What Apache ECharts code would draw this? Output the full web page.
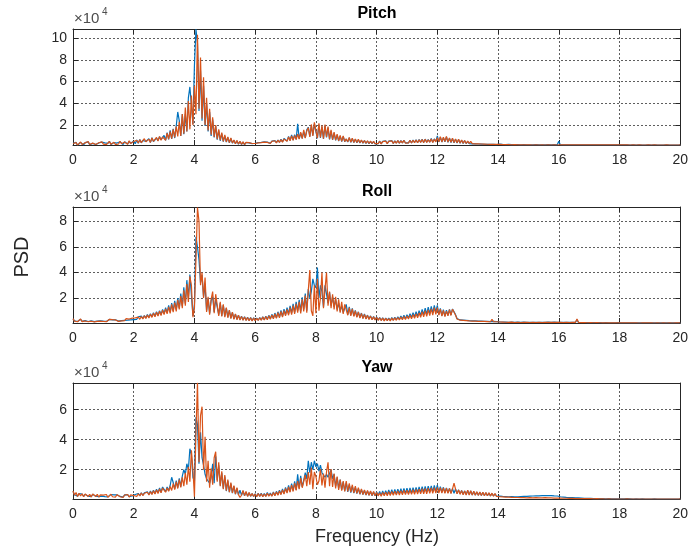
<!DOCTYPE html>
<html><head><meta charset="utf-8">
<script src="https://cdn.jsdelivr.net/npm/echarts@6/dist/echarts.min.js"></script>
<style>html,body{margin:0;padding:0;background:#fff}#c{width:691px;height:552px}</style>
</head><body><div id="c"></div>
<script>
// ---- data (PSD values in units of 100, i.e. 100 = 1x10^4), sampled every FREQ_STEP Hz from 0 to 20 Hz
const FREQ_STEP = 0.05;
const VALUE_UNIT = 100;
const xTicks = [0,2,4,6,8,10,12,14,16,18,20];
const titles = ['Pitch','Roll','Yaw'];
const pitchTicks = [2,4,6,8,10];   // x10^4
const rollTicks  = [2,4,6,8];
const yawTicks   = [2,4,6];
const pitchRange = [0.16, 10.83];   // x10^4
const rollRange  = [0.04, 9.14];
const yawRange   = [0.05, 7.78];

const pitchBlue = [
32,17,40,14,30,40,22,16,38,21,45,19,18,31,42,20,20,35,26,42,
26,36,21,31,50,20,33,39,22,34,27,46,29,20,45,28,26,50,31,24,
50,28,62,33,66,36,58,70,48,50,74,38,84,48,66,80,56,92,64,86,
105,58,130,68,150,72,165,80,190,320,240,100,300,115,300,140,450,550,380,210,
750,1080,950,330,700,240,560,190,400,140,320,100,250,85,190,65,150,55,120,48,
100,42,85,36,76,33,60,27,55,24,48,21,43,19,39,21,36,19,29,24,
32,21,38,23,40,24,44,26,42,47,32,52,36,57,38,62,42,68,45,75,
82,52,95,58,108,62,112,68,210,72,125,78,140,82,155,180,95,195,105,210,
140,78,205,82,185,72,195,86,175,68,145,62,128,58,110,52,100,48,95,46,
70,43,82,40,75,38,70,36,65,34,60,33,56,31,53,29,50,29,48,27,
44,29,52,27,49,31,55,29,51,33,56,31,55,34,58,33,56,36,60,35,
52,36,60,35,62,39,64,37,66,41,68,39,70,41,66,43,75,42,72,47,
100,44,88,43,84,46,90,41,78,39,75,37,70,35,66,33,60,31,56,29,
50,29,47,27,45,26,43,25,41,24,39,23,37,22,35,21,34,21,32,20,
29,24,28,21,28,20,27,21,26,19,25,20,27,19,24,18,23,19,25,18,
22,18,24,17,22,19,23,17,22,18,21,17,23,19,24,17,25,19,26,18,
50,19,23,17,21,18,21,17,20,17,20,17,20,17,20,17,19,17,19,17,
19,17,19,17,19,18,19,17,19,17,19,17,18,17,19,17,18,17,19,17,
18,17,18,17,18,17,18,16,18,17,18,16,18,17,18,16,17,16,18,17,
17,16,18,17,17,16,18,16,17,16,18,17,17,16,17,16,18,16,17,16,17];

const pitchOrange = [
30,18,38,15,27,44,20,17,36,22,48,20,17,33,40,21,19,37,24,45,
24,38,19,33,48,22,31,41,20,36,25,50,27,21,43,30,24,55,29,26,
48,30,60,35,64,38,56,74,45,52,70,40,80,50,62,85,52,95,60,90,
100,60,125,70,140,75,160,85,185,95,230,100,300,120,360,140,420,160,470,200,
560,300,1030,350,820,260,640,200,450,150,350,110,270,90,200,70,160,60,130,50,
110,45,90,38,80,35,62,28,58,25,50,22,45,20,40,22,38,20,30,25,
30,20,36,22,38,23,42,25,40,45,30,50,34,55,36,60,40,65,42,70,
75,50,90,55,100,60,105,65,115,70,135,75,155,80,145,175,90,205,100,225,
150,80,215,85,195,75,205,90,185,70,155,65,135,60,115,55,105,50,100,48,
72,45,85,42,78,40,72,38,68,36,62,34,58,32,55,30,52,30,50,28,
42,28,50,26,47,30,52,28,49,32,54,30,52,33,56,32,54,35,58,34,
50,35,58,34,60,38,62,36,64,40,66,38,68,40,64,42,72,40,70,45,
82,45,92,44,88,48,96,42,82,40,78,38,72,36,68,34,62,32,58,30,
52,30,49,28,46,27,44,26,42,25,40,24,38,23,36,22,35,22,33,21,
30,22,28,20,27,19,26,20,25,18,24,19,26,18,23,17,22,18,24,17,
21,17,23,16,20,18,22,16,21,17,20,16,22,18,21,16,20,17,23,16,
24,18,22,17,21,18,22,17,20,17,21,17,20,17,21,17,19,17,20,17,
19,17,20,17,19,18,19,17,20,17,19,17,18,17,19,17,18,17,19,17,
18,17,19,17,18,17,18,16,18,17,18,16,18,17,18,16,17,16,18,17,
17,16,18,17,17,16,18,16,17,16,18,17,17,16,17,16,18,16,17,16,17];

const rollBlue = [
36,20,31,16,29,33,17,28,22,31,16,26,20,29,15,26,19,29,21,30,
18,28,16,28,32,20,29,17,29,34,19,32,22,34,24,39,26,37,29,44,
31,46,33,52,37,58,40,63,44,70,49,76,53,84,58,92,64,100,70,110,
78,125,84,142,90,160,100,178,108,200,120,235,135,285,155,340,200,385,400,60,
150,680,600,500,320,380,210,300,100,200,80,180,210,90,190,180,70,160,60,145,
55,120,50,102,42,88,36,74,33,66,30,58,28,54,25,50,24,47,22,45,
24,42,26,47,28,52,30,57,33,64,37,72,41,82,45,92,50,102,56,112,
70,125,75,138,82,155,88,170,98,185,95,205,110,235,100,270,200,250,350,300,
280,440,200,300,250,130,300,230,160,245,140,210,130,190,110,160,95,140,85,120,
150,70,130,65,118,60,102,52,92,46,82,41,75,38,66,35,60,32,54,30,
50,27,47,25,45,23,43,25,42,24,46,27,49,29,53,33,58,35,64,38,
68,44,76,48,84,52,92,56,100,61,110,67,120,72,128,78,135,84,142,90,
143,70,118,62,108,58,104,65,110,67,114,105,70,38,44,28,42,26,40,24,
37,22,35,21,33,20,32,19,31,18,30,17,29,16,28,15,30,16,29,15,
19,13,18,12,17,11,16,10,15,12,16,10,15,11,14,9,15,11,14,10,
13,9,14,10,13,9,15,10,14,9,13,10,14,11,15,10,16,11,15,10,
14,10,13,9,15,10,14,9,13,10,15,10,30,9,13,8,12,8,11,7,
11,8,12,7,11,8,10,7,11,6,10,7,9,6,10,6,9,6,10,7,
9,5,8,6,9,5,8,5,7,5,8,5,7,5,8,5,7,5,8,5,
7,5,8,5,7,5,7,5,8,5,7,5,8,5,7,5,7,5,8,5,7];

const rollOrange = [
38,18,32,14,27,35,15,30,20,33,14,28,18,31,13,27,17,30,19,31,
16,29,14,26,33,18,30,15,28,36,17,31,20,33,22,38,24,35,26,42,
28,44,30,50,33,55,36,60,40,66,44,72,48,80,52,88,58,96,62,105,
70,115,75,130,80,150,90,165,95,185,110,215,120,260,140,310,170,370,300,50,
120,500,910,800,300,400,200,360,90,210,70,190,250,80,230,240,60,170,55,150,
50,125,45,105,38,90,33,75,30,65,27,56,25,52,23,48,22,45,20,43,
22,40,24,45,26,50,28,55,30,60,34,66,37,75,40,85,45,95,50,100,
60,110,65,125,70,140,75,155,85,170,80,190,95,220,85,260,420,100,60,300,
80,350,100,200,400,120,270,400,140,250,120,230,110,210,95,190,85,170,75,150,
140,65,125,60,115,55,100,48,90,42,80,38,72,35,64,32,58,30,52,28,
48,25,44,23,42,21,40,22,38,21,42,24,44,25,47,28,50,30,55,32,
58,36,64,38,70,41,76,44,84,49,92,53,100,57,107,62,115,66,125,72,
125,65,112,58,102,54,97,60,108,63,112,120,65,35,42,26,40,24,38,22,
36,20,34,19,32,18,31,17,30,16,29,16,28,15,27,14,32,15,30,14,
18,12,17,11,16,10,15,9,14,11,15,8,14,10,13,8,14,10,13,9,
12,8,13,9,12,8,14,9,13,8,12,9,13,10,14,9,15,10,14,9,
13,9,12,8,14,9,13,8,12,9,14,9,35,8,12,7,11,7,10,6,
10,7,11,6,10,7,9,6,10,5,9,6,8,5,9,5,8,5,9,6,
8,5,7,5,8,5,7,5,6,5,7,5,6,4,7,5,6,5,7,5,
6,5,7,4,6,5,6,4,7,5,6,4,7,5,6,4,6,5,7,5,6];

const yawBlue = [
55,33,46,24,41,28,38,22,36,42,24,34,21,36,27,24,35,20,33,24,
32,21,34,19,31,35,22,33,20,33,23,22,32,18,32,23,34,20,33,25,
30,35,24,42,27,47,30,46,33,53,35,58,38,64,42,70,46,78,50,85,
78,54,86,60,95,150,115,72,128,80,142,88,158,200,170,240,200,340,300,150,
120,550,500,240,450,280,230,170,140,130,110,150,240,110,290,130,230,95,180,75,
155,58,126,50,108,44,90,37,76,33,64,29,58,26,52,24,46,23,41,22,
40,22,44,24,43,22,42,24,48,27,44,26,52,29,56,33,64,38,72,42,
82,50,95,55,108,60,122,66,170,75,160,85,130,180,140,260,180,250,200,260,
220,240,190,230,180,190,150,170,150,160,200,140,170,90,150,75,135,65,120,58,
115,52,100,47,90,44,82,41,74,37,67,34,62,31,58,29,55,27,52,26,
52,28,55,30,58,32,61,34,65,36,67,37,69,38,71,40,73,41,75,42,
77,43,79,44,81,46,83,47,85,48,87,50,89,51,91,52,93,54,95,55,
97,52,88,50,83,48,79,46,76,44,74,43,72,42,66,39,62,36,59,34,
62,34,58,32,55,31,52,30,50,29,48,28,46,27,44,26,42,25,40,23,
32,24,30,22,29,21,28,20,28,21,28,20,28,20,29,21,30,22,31,23,
32,24,33,25,34,26,35,26,36,27,37,28,36,27,38,28,37,26,35,25,
30,20,27,18,24,16,22,15,20,14,19,13,17,12,16,11,15,10,14,9,
13,9,12,8,12,8,11,7,10,7,11,6,10,7,9,6,10,6,9,6,
9,6,8,6,9,7,8,6,7,5,8,6,7,5,8,6,7,5,7,5,
7,5,8,6,7,5,6,5,7,5,6,5,7,5,6,5,7,5,6,5,6];

const yawOrange = [
58,30,48,22,43,25,40,20,38,44,22,36,19,38,25,22,36,18,33,22,
31,19,35,17,30,37,20,32,18,34,22,20,33,16,31,21,35,18,32,23,
28,34,22,40,25,45,28,43,30,50,32,54,35,60,38,65,42,72,46,78,
70,50,78,56,88,62,108,68,120,75,135,82,150,90,180,100,220,120,330,200,
20,450,780,250,560,620,200,420,120,260,80,210,100,280,320,120,250,90,190,70,
165,60,135,50,115,45,95,38,80,34,15,30,62,27,55,22,48,24,42,22,
38,20,42,22,40,20,38,22,44,24,40,23,48,26,52,30,58,34,65,38,
75,45,85,50,98,55,110,62,125,70,145,80,80,165,90,185,100,215,70,185,
155,100,125,205,95,175,80,185,250,90,205,85,175,75,155,65,135,60,125,55,
125,55,110,50,100,46,90,42,80,38,72,35,66,32,62,30,58,28,55,27,
48,26,45,24,48,26,50,27,53,28,55,30,57,31,59,32,61,33,63,34,
63,35,65,36,67,37,69,38,71,39,73,40,75,40,77,42,79,43,81,44,
83,45,81,44,79,43,77,42,75,41,73,110,71,39,65,36,61,33,58,31,
64,32,60,31,57,30,54,29,52,28,50,27,48,26,46,25,44,24,42,22,
30,20,28,19,27,18,26,17,25,16,24,15,23,15,22,14,21,14,20,13,
21,14,20,13,22,14,21,13,20,12,22,14,21,13,20,12,19,11,18,11,
19,11,18,10,17,10,16,9,15,9,16,8,15,8,14,8,13,7,12,7,
12,7,11,6,12,7,11,6,10,6,11,5,10,6,9,5,10,5,9,5,
9,5,8,5,9,6,8,5,7,5,8,5,7,5,8,5,7,5,7,5,
7,5,8,5,7,5,6,5,7,5,6,5,7,5,6,5,7,5,6,5,6];

// ---- chart construction
const FONT = '"Liberation Sans", Arial, Helvetica, sans-serif';
const AX = '#262626';
const BLUE = '#0072BD', ORANGE = '#D95319';
const GRID_TOPS = [29, 207, 383];
const GRID_H = 116, GRID_L = 73, GRID_W = 608;
const panels = [
  {ticks: pitchTicks, range: pitchRange, blue: pitchBlue, orange: pitchOrange},
  {ticks: rollTicks,  range: rollRange,  blue: rollBlue,  orange: rollOrange},
  {ticks: yawTicks,   range: yawRange,   blue: yawBlue,   orange: yawOrange}
];
const toXY = arr => arr.map((v, i) => [Math.round(i * FREQ_STEP * 100) / 100, v * VALUE_UNIT]);

const grid = [], xAxis = [], yAxis = [], series = [], graphic = [];
const splitStyle = {show: true, lineStyle: {color: '#5e5e5e', width: 1, type: [2, 2]}};
panels.forEach((p, i) => {
  grid.push({left: GRID_L, top: GRID_TOPS[i], width: GRID_W, height: GRID_H, containLabel: false});
  const yVals = p.ticks.map(t => t * 1e4);
  xAxis.push({type: 'value', gridIndex: i, min: xTicks[0], max: xTicks[xTicks.length - 1], interval: xTicks[1] - xTicks[0], position: 'bottom',
    axisLine: {show: true, onZero: false, lineStyle: {color: AX, width: 1}},
    axisTick: {show: true, inside: true, length: 5, lineStyle: {color: AX}},
    axisLabel: {color: AX, fontSize: 14, margin: 8, fontFamily: FONT},
    splitLine: splitStyle});
  yAxis.push({type: 'value', gridIndex: i, min: p.range[0] * 1e4, max: p.range[1] * 1e4, position: 'left',
    axisLine: {show: true, onZero: false, lineStyle: {color: AX, width: 1}},
    axisTick: {show: true, inside: true, length: 5, customValues: yVals, lineStyle: {color: AX}},
    axisLabel: {color: AX, fontSize: 14, margin: 6, fontFamily: FONT, customValues: yVals,
      formatter: v => String(Math.round(v / 1e4))},
    splitLine: splitStyle});
  series.push({type: 'line', name: titles[i] + ' 1', xAxisIndex: i, yAxisIndex: i, data: toXY(p.blue),
    showSymbol: false, symbol: 'none', lineStyle: {color: BLUE, width: 1.2}, itemStyle: {color: BLUE}, z: 2});
  series.push({type: 'line', name: titles[i] + ' 2', xAxisIndex: i, yAxisIndex: i, data: toXY(p.orange),
    showSymbol: false, symbol: 'none', lineStyle: {color: ORANGE, width: 1.2}, itemStyle: {color: ORANGE}, z: 3});
  const off = GRID_TOPS[i] - GRID_TOPS[0];
  graphic.push({type: 'text', x: 377, y: 14 + off, style: {text: titles[i], font: 'bold 16px ' + FONT, fill: '#000', align: 'center', verticalAlign: 'middle'}});
  graphic.push({type: 'text', x: 74, y: 19 + off, style: {text: '\u00d710', font: '15px ' + FONT, fill: '#4d4d4d', align: 'left', verticalAlign: 'middle'}});
  graphic.push({type: 'text', x: 102, y: 12 + off, style: {text: '4', font: '10px ' + FONT, fill: '#4d4d4d', align: 'left', verticalAlign: 'middle'}});
});
// mirror axes (box ticks on top and right)
panels.forEach((p, i) => {
  const yVals = p.ticks.map(t => t * 1e4);
  xAxis.push({type: 'value', gridIndex: i, min: xTicks[0], max: xTicks[xTicks.length - 1], interval: xTicks[1] - xTicks[0], position: 'top',
    axisLine: {show: true, onZero: false, lineStyle: {color: AX, width: 1}},
    axisTick: {show: true, inside: true, length: 5, lineStyle: {color: AX}},
    axisLabel: {show: false}, splitLine: {show: false}});
  yAxis.push({type: 'value', gridIndex: i, min: p.range[0] * 1e4, max: p.range[1] * 1e4, position: 'right',
    axisLine: {show: true, onZero: false, lineStyle: {color: AX, width: 1}},
    axisTick: {show: true, inside: true, length: 5, customValues: yVals, lineStyle: {color: AX}},
    axisLabel: {show: false}, splitLine: {show: false}});
});
graphic.push({type: 'text', x: 22, y: 257, rotation: Math.PI / 2, style: {text: 'PSD', font: '20px ' + FONT, fill: AX, align: 'center', verticalAlign: 'middle'}});
graphic.push({type: 'text', x: 377, y: 537, style: {text: 'Frequency (Hz)', font: '18px ' + FONT, fill: AX, align: 'center', verticalAlign: 'middle'}});

const chart = echarts.init(document.getElementById('c'), null, {renderer: 'canvas'});
chart.setOption({animation: false, backgroundColor: '#fff', grid, xAxis, yAxis, series, graphic});
</script></body></html>
